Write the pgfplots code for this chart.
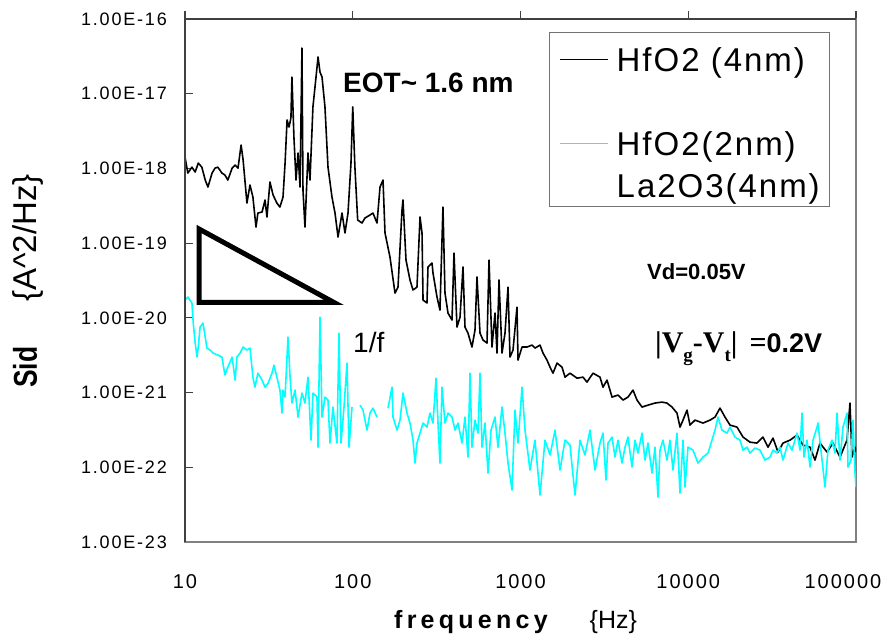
\documentclass[border=0pt]{standalone}
\usepackage{fontspec}
\usepackage{pgfplots}
\pgfplotsset{compat=1.18}
\setmainfont{Liberation Sans}
\newfontfamily\tickfam{Liberation Sans}[LetterSpace=10]
\newfontfamily\legfam{Liberation Sans}[LetterSpace=6]
\newfontfamily\sidfam{Liberation Sans}[FakeStretch=0.8]
\newfontfamily\xlabfam{Liberation Sans}[LetterSpace=17]
\newfontfamily\serifbf{Liberation Serif}
\definecolor{aqua}{RGB}{0,255,255}

% HfO2 (4nm): frequency [Hz], Sid [A^2/Hz]
\pgfplotstableread{
f S
10.0 1.42e-18
10.4 8.67e-19
11.0 1.04e-18
11.5 8.95e-19
12.0 1.18e-18
12.6 1.04e-18
13.2 6.99e-19
13.7 5.64e-19
14.5 8.67e-19
15.1 1.01e-18
15.7 1.04e-18
16.6 8.67e-19
17.3 8.16e-19
18.0 6.99e-19
19.1 1.01e-18
19.9 1.11e-18
20.7 1.01e-18
21.6 2.06e-18
22.2 1.30e-18
23.4 3.44e-19
24.4 6.00e-19
25.4 4.14e-19
26.5 1.64e-19
27.2 2.53e-19
28.8 2.61e-19
30.0 3.78e-19
30.8 2.24e-19
32.1 6.58e-19
33.5 4.41e-19
35.3 3.44e-19
36.8 3.04e-19
38.4 4.14e-19
39.5 1.18e-18
40.6 4.45e-18
41.7 3.58e-18
42.8 4.73e-18
43.4 1.67e-17
44.6 2.63e-18
45.9 6.99e-19
47.2 1.61e-18
48.5 5.64e-19
49.8 4.09e-17
50.5 5.14e-19
51.9 1.64e-19
54.1 1.61e-18
55.6 6.99e-19
57.9 6.64e-18
60.4 1.67e-17
62.1 3.10e-17
63.8 1.95e-17
65.6 1.67e-17
68.3 6.64e-18
71.2 1.04e-18
75.2 4.14e-19
78.4 2.53e-19
81.7 1.21e-19
86.3 2.53e-19
89.9 1.37e-19
93.7 2.53e-19
97.6 1.18e-18
100 6.64e-18
103 1.04e-18
107 2.04e-19
113.5 1.86e-19
118.3 2.17e-19
126.7 2.38e-19
132 2.53e-19
139.5 1.86e-19
145.4 5.64e-19
151.5 6.99e-19
155.7 1.37e-19
166.7 6.51e-20
178.6 2.15e-20
186.1 2.58e-20
196.6 2.77e-19
199.3 3.78e-19
207.7 5.94e-20
219.4 3.21e-20
228.7 2.36e-20
241.5 2.58e-20
251.8 2.24e-19
258.8 1.37e-19
262.4 1.73e-20
277 1.58e-20
280.9 4.79e-20
296.9 5.42e-20
300.9 3.98e-20
317.9 1.90e-20
331 1.27e-20
345 3.04e-19
354.7 2.15e-20
369.7 1.16e-20
390.6 9.35e-21
401.4 7.37e-20
418.2 7.53e-21
435.9 1.02e-20
454.2 4.79e-20
466.8 7.53e-21
486.4 6.26e-21
513.7 4.07e-21
535.5 6.87e-21
550.4 3.52e-20
573.6 6.26e-21
597.7 5.05e-21
631.4 4.60e-21
649 5.94e-20
676.3 4.07e-21
704.7 1.16e-20
724.4 3.38e-21
744.5 3.21e-20
775.9 3.38e-21
808.4 6.26e-21
842.5 2.58e-20
865.8 2.99e-21
902.2 3.71e-21
953 1.39e-20
966.3 2.72e-21
1021 4.07e-21
1093 4.07e-21
1171 4.32e-21
1220 3.94e-21
1307 4.32e-21
1362 3.38e-21
1439 2.72e-21
1500 2.19e-21
1562 1.82e-21
1651 2.48e-21
1768 2.19e-21
1843 1.61e-21
1973 1.82e-21
2172 1.56e-21
2359 1.61e-21
2491 1.38e-21
2706 1.82e-21
2978 1.61e-21
3103 1.18e-21
3279 1.47e-21
3512 8.71e-22
3813 9.26e-22
4083 7.94e-22
4374 8.71e-22
4685 1.08e-21
4949 7.94e-22
5300 6.40e-22
5754 6.80e-22
6336 7.24e-22
6976 7.46e-22
7469 7.24e-22
8000 6.40e-22
8568 5.32e-22
8931 3.45e-22
9305 4.28e-22
9829 5.83e-22
10240 3.67e-22
10970 4.28e-22
12240 3.91e-22
13480 4.28e-22
14440 4.70e-22
15460 6.20e-22
16560 4.70e-22
17740 3.67e-22
19530 3.45e-22
21210 2.54e-22
23340 2.17e-22
25690 2.11e-22
27900 2.54e-22
29890 1.86e-22
32010 2.46e-22
34280 1.60e-22
36720 2.11e-22
40430 2.31e-22
44500 2.70e-22
48300 1.98e-22
53180 1.86e-22
56960 1.25e-22
61000 2.11e-22
67150 1.60e-22
72930 2.11e-22
80280 1.37e-22
88380 2.31e-22
92080 7.24e-22
94640 1.37e-22
98630 1.86e-22
100000 1.60e-22
}\hfoA

% HfO2(2nm) / La2O3(4nm); nan = gap in the trace
\pgfplotstableread{
f S
10.0 1.73e-20
10.4 1.90e-20
11.0 1.58e-20
11.2 8.52e-21
11.5 4.60e-21
11.8 2.99e-21
12.0 4.07e-21
12.3 7.53e-21
12.8 8.52e-21
13.2 5.53e-21
13.5 3.94e-21
14.1 3.71e-21
14.7 3.38e-21
15.7 3.18e-21
16.6 2.99e-21
17.3 1.72e-21
18.0 2.19e-21
19.1 2.99e-21
19.9 1.47e-21
20.4 2.99e-21
21.3 3.38e-21
22.2 4.07e-21
23.4 3.71e-21
24.4 3.94e-21
25.4 1.61e-21
26.1 1.18e-21
27.2 1.82e-21
28.8 1.47e-21
30.0 1.18e-21
31.3 1.34e-21
33.0 1.82e-21
33.9 2.33e-21
35.3 1.61e-21
36.8 1.08e-21
37.9 5.32e-22
38.4 1.08e-21
39.5 8.71e-22
41.1 5.53e-21
42.3 1.61e-21
43.4 7.24e-22
45.3 1.08e-21
47.2 4.70e-22
49.8 9.85e-22
51.9 7.24e-22
54.1 1.61e-21
56.4 2.31e-22
57.9 9.85e-22
61.2 8.71e-22
62.1 1.86e-22
63.8 1.02e-20
65.6 4.70e-22
68.3 8.71e-22
71.2 7.94e-22
73.2 2.11e-22
76.2 6.40e-22
80.5 2.11e-22
82.8 6.26e-21
85.1 2.11e-22
88.7 6.40e-22
92.4 2.48e-21
95.0 1.86e-22
99.0 6.40e-22
104 nan
110.5 6.80e-22
115.1 5.83e-22
121.6 3.15e-22
126.7 5.32e-22
132 6.20e-22
139.5 4.70e-22
150 nan
162.3 6.20e-22
171.4 1.18e-21
173.8 4.70e-22
183.6 3.15e-22
191.3 4.28e-22
199.3 9.85e-22
210.6 5.32e-22
219.4 3.91e-22
228.7 2.31e-22
235 1.14e-22
241.5 2.11e-22
251.8 2.87e-22
262.4 3.91e-22
277 3.45e-22
288.7 5.32e-22
300.9 3.91e-22
313.6 1.56e-21
322.3 3.91e-22
331 1.14e-22
340.4 1.18e-21
354.7 3.91e-22
369.7 5.32e-22
390.6 4.70e-22
407 3.15e-22
424.2 3.91e-22
447.9 2.11e-22
466.8 4.70e-22
486.4 1.37e-22
500.1 1.82e-21
513.7 1.86e-22
535.5 4.28e-22
558 2.87e-22
573.6 1.82e-21
589.5 1.86e-22
614.3 3.91e-22
640.2 8.39e-23
667.2 3.15e-22
704.7 4.70e-22
734.4 1.86e-22
775.9 6.40e-22
808.4 2.87e-22
842.5 1.14e-22
890 4.97e-23
927.2 5.83e-22
966.3 2.11e-22
1021 1.18e-21
1064 3.15e-22
1139 9.20e-23
1220 2.31e-22
1307 4.26e-23
1400 2.31e-22
1500 1.46e-22
1606 3.15e-22
1720 9.20e-23
1843 2.31e-22
1973 1.98e-22
2113 4.26e-23
2263 2.31e-22
2424 1.46e-22
2596 3.15e-22
2781 9.20e-23
2978 2.11e-22
3103 2.87e-22
3234 6.76e-23
3325 2.11e-22
3512 2.54e-22
3659 1.37e-22
3813 2.31e-22
4028 1.14e-22
4198 1.86e-22
4374 2.54e-22
4620 1.01e-22
4814 2.31e-22
5016 1.55e-22
5300 2.87e-22
5522 1.25e-22
5754 2.11e-22
6081 8.39e-23
6336 1.86e-22
6602 4.00e-23
6785 1.70e-22
7070 2.31e-22
7469 1.25e-22
7784 2.31e-22
8111 9.20e-23
8568 2.87e-22
8931 4.53e-23
9305 2.31e-22
9564 5.45e-23
9965 1.86e-22
10670 1.70e-22
11430 1.14e-22
12240 1.37e-22
13120 1.55e-22
13850 2.31e-22
14440 3.15e-22
15040 4.70e-22
15890 3.15e-22
17020 2.87e-22
17740 3.45e-22
18990 2.54e-22
20350 2.31e-22
21210 1.70e-22
22400 1.86e-22
23340 1.55e-22
25000 1.81e-22
26780 1.70e-22
28680 1.25e-22
30720 1.37e-22
32010 1.70e-22
33810 1.55e-22
35230 1.86e-22
36720 1.25e-22
39330 2.11e-22
41550 1.70e-22
44500 2.87e-22
46370 1.70e-22
47650 5.32e-22
48980 1.37e-22
51050 2.31e-22
53180 1.01e-22
55420 2.31e-22
58550 3.45e-22
59360 3.91e-22
62710 1.25e-22
65340 5.45e-23
68080 1.70e-22
71930 2.31e-22
74960 1.55e-22
77040 5.32e-22
80280 1.25e-22
83660 3.45e-22
88380 5.32e-22
89620 1.01e-22
93370 1.25e-22
95960 4.28e-22
98630 8.39e-23
100000 5.45e-23
}\hfoB

\begin{document}
\begin{tikzpicture}
\useasboundingbox (0,0) rectangle (894pt,639pt);
\begin{axis}[
    at={(185pt,97pt)}, anchor=south west,
    scale only axis, width=671pt, height=523pt,
    xmode=log, ymode=log,
    xmin=10, xmax=100000, ymin=1e-23, ymax=1e-16,
    xtick={10,100,1000,10000,100000},
    xticklabels={10,100,1000,10000,\hspace*{-26pt}100000},
    ytick={1e-23,1e-22,1e-21,1e-20,1e-19,1e-18,1e-17,1e-16},
    yticklabels={1.00E-23,1.00E-22,1.00E-21,1.00E-20,1.00E-19,1.00E-18,1.00E-17,1.00E-16},
    xtick pos=right, xticklabel pos=left, xtick align=outside,
    ytick pos=left, ytick align=inside, major tick length=8pt,
    minor tick style={draw=none},
    tick style={black!75, line width=1.2pt},
    axis line style={black!50, line width=1.2pt},
    yticklabel style={font=\tickfam\fontsize{18}{18}\selectfont, anchor=east, inner sep=0pt, xshift=-18pt},
    xticklabel style={font=\tickfam\fontsize{20}{20}\selectfont, anchor=north, inner sep=0pt, yshift=-24pt},
    xlabel={{\xlabfam\bfseries frequency}\hspace{42pt}\{Hz\}},
    every axis x label/.style={at={(rel axis cs:0.3115,-0.1645)}, anchor=base west, inner sep=0pt, font=\fontsize{25}{25}\selectfont},
    ylabel={{\sidfam\bfseries Sid}\hspace{45pt}\{A\textasciicircum 2/Hz\}},
    every axis y label/.style={at={(rel axis cs:-0.2206,0.2945)}, rotate=90, anchor=base west, inner sep=0pt, font=\fontsize{33}{33}\selectfont},
    unbounded coords=jump,
    legend style={at={(rel axis cs:0.5425,0.975)}, anchor=north west,
        draw=black!55, line width=1pt, fill=white,
        font=\legfam\fontsize{33}{38}\selectfont,
        inner xsep=10pt, inner ysep=7pt, row sep=8pt, column sep=8pt,
        nodes={inner sep=0pt, text height=32pt, text depth=2pt},
        cells={anchor=west}},
]
\addplot[black, line width=1.6pt, line join=round,
    legend image code/.code={\draw[black, line width=1.2pt] (0pt,-3pt) -- (48pt,-3pt);}]
    table[x=f, y=S] {\hfoA};
\addlegendentry{HfO2 (4nm)}
\addlegendimage{empty legend}
\addlegendentry{\strut}
\addplot[aqua, line width=1.6pt, line join=round,
    legend image code/.code={\draw[aqua, line width=1.2pt] (0pt,-3pt) -- (48pt,-3pt);}]
    table[x=f, y=S] {\hfoB};
\addlegendentry{HfO2(2nm)}
\addlegendimage{empty legend}
\addlegendentry{La2O3(4nm)}
\end{axis}

% darker left and top axis lines
\draw[black!75, line width=1.3pt] (185pt,97pt) -- (185pt,620pt) -- (856pt,620pt);

% 1/f slope triangle
\draw[black, line width=5pt, miter limit=20] (199pt,410pt) -- (199pt,336.5pt) -- (334pt,336.5pt) -- cycle;

\node[anchor=base west, inner sep=0pt, font=\fontsize{28}{28}\selectfont\bfseries] at (343pt,546pt) {EOT\textasciitilde{} 1.6 nm};
\node[anchor=base west, inner sep=0pt, font=\fontsize{28}{28}\selectfont] at (353pt,286pt) {1/f};
\node[anchor=base west, inner sep=0pt, font=\fontsize{22}{22}\selectfont\bfseries] at (647pt,359pt) {Vd=0.05V};
\node[anchor=base west, inner sep=0pt] at (655pt,286pt)
    {\serifbf\bfseries\fontsize{30}{30}\selectfont |V\raisebox{-9pt}{\fontsize{19}{19}\selectfont g}-V\raisebox{-9pt}{\fontsize{19}{19}\selectfont t}|\hspace{0.4em}=\rmfamily\bfseries\fontsize{27}{27}\selectfont 0.2V};
\end{tikzpicture}
\end{document}
